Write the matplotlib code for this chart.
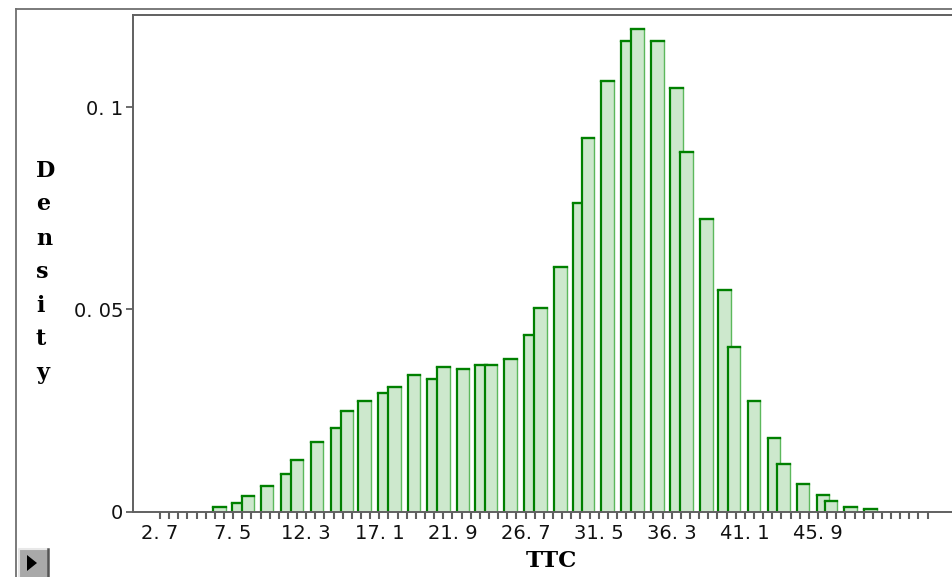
import matplotlib
matplotlib.use("Agg")
import matplotlib.pyplot as plt
from matplotlib.patches import Rectangle, Polygon
from matplotlib.lines import Line2D
import numpy as np

# ---- data ----
bin_left = [6.20, 7.41, 8.06, 9.33, 10.64, 11.30, 12.60, 13.91, 14.56, 15.72,
            17.03, 17.69, 18.95, 20.25, 20.91, 22.20, 23.36, 24.02, 25.31, 26.62,
            27.26, 28.57, 29.84, 30.39, 31.66, 32.97, 33.63, 34.94, 36.21, 36.86,
            38.16, 39.34, 39.99, 41.29, 42.60, 43.23, 44.51, 45.82, 46.34, 47.63,
            48.94]
density = [0.0011, 0.0021, 0.0040, 0.0064, 0.0093, 0.0128, 0.0172, 0.0206, 0.0250, 0.0274,
           0.0294, 0.0309, 0.0338, 0.0328, 0.0358, 0.0353, 0.0363, 0.0362, 0.0377, 0.0437,
           0.0504, 0.0606, 0.0762, 0.0924, 0.1066, 0.1164, 0.1193, 0.1164, 0.1047, 0.0890,
           0.0724, 0.0548, 0.0406, 0.0274, 0.0182, 0.0119, 0.0069, 0.0041, 0.0026, 0.0012,
           0.0007]
xtick_values = [2.7, 7.5, 12.3, 17.1, 21.9, 26.7, 31.5, 36.3, 41.1, 45.9]
xtick_labels = ["2. 7", "7. 5", "12. 3", "17. 1", "21. 9", "26. 7", "31. 5", "36. 3", "41. 1", "45. 9"]
ytick_values = [0, 0.05, 0.1]
ytick_labels = ["0", "0. 05", "0. 1"]
x_label = "TTC"
y_label = "Density"

W, H = 952, 577
fig = plt.figure(figsize=(W / 100, H / 100), dpi=100)
fig.patch.set_facecolor("white")

def fx(px):
    return px / W

def fy(py):
    return 1 - py / H

# outer frame (left and top visible)
fig.add_artist(Line2D([fx(16), fx(16)], [fy(9), fy(577)], color="#707070", lw=1.3, transform=fig.transFigure))
fig.add_artist(Line2D([fx(16), fx(952)], [fy(9), fy(9)], color="#707070", lw=1.3, transform=fig.transFigure))

ax_left, ax_right, ax_top, ax_bottom = 133, 952, 15, 511.7
ax = fig.add_axes([fx(ax_left), fy(ax_bottom), fx(ax_right - ax_left), (ax_bottom - ax_top) / H])
ax.set_xlim(0.927, 54.70)
ax.set_ylim(0, 0.1228)

fill_c = "#cde8cd"
dark = "#008000"
mid = "#5cb85c"
bar_w = 0.82
for i, (x0, h) in enumerate(zip(bin_left, density)):
    z = 2 + i * 0.01
    ax.bar([x0], [h], width=bar_w, align="edge", color=fill_c, linewidth=0, zorder=z)
    ax.plot([x0 + bar_w, x0 + bar_w], [0, h], color=mid, lw=1.0, zorder=z + 0.001, solid_capstyle="butt")
    ax.plot([x0, x0], [0, h], color=dark, lw=1.6, zorder=z + 0.002, solid_capstyle="butt")
    ax.plot([x0, x0 + bar_w], [h, h], color=dark, lw=1.7, zorder=z + 0.003, solid_capstyle="projecting")

ax.spines["right"].set_visible(False)
for s in ["left", "top", "bottom"]:
    ax.spines[s].set_color("#606060")
    ax.spines[s].set_linewidth(1.4)
ax.spines["bottom"].set_zorder(5)

ax.set_xticks(xtick_values)
ax.set_xticklabels(xtick_labels)
ax.set_xticks(np.arange(2.7, 53.2, 0.6), minor=True)
ax.tick_params(axis="x", which="both", direction="out", length=5, width=1.5, color="#606060",
               pad=4, labelsize=14, labelcolor="#111111")
ax.set_yticks(ytick_values)
ax.set_yticklabels(ytick_labels)
ax.tick_params(axis="y", which="both", direction="out", length=5, width=1.3, color="#606060",
               pad=2, labelsize=14, labelcolor="#111111")
for lab in ax.get_xticklabels() + ax.get_yticklabels():
    lab.set_fontfamily(["DejaVu Sans"])

# axis titles
serif = ["DejaVu Serif"]
fig.text(fx(551), fy(561), x_label, ha="center", va="center", fontsize=16.5,
         fontweight="bold", family=serif, color="black")
letter_y = [171, 204, 239, 272, 306, 339, 373]
for ch, yy in zip(y_label, letter_y):
    fig.text(fx(36), fy(yy), ch, ha="left", va="center", fontsize=16, fontweight="bold",
             family=serif, color="black")

# small play button bottom-left
fig.add_artist(Rectangle((fx(18.5), fy(577)), fx(30), (577 - 548.5) / H, transform=fig.transFigure,
                         facecolor="#a9a9a9", edgecolor="none"))
fig.add_artist(Line2D([fx(19), fx(19), fx(47)], [fy(577), fy(549), fy(549)], color="#e8e8e8", lw=1.5,
                      transform=fig.transFigure))
fig.add_artist(Line2D([fx(47.5), fx(47.5)], [fy(549), fy(577)], color="#555555", lw=1.8,
                      transform=fig.transFigure))
fig.add_artist(Polygon([(fx(27), fy(555)), (fx(27), fy(571)), (fx(37), fy(563))], closed=True,
                       transform=fig.transFigure, facecolor="black", edgecolor="none"))

fig.savefig("out.png", dpi=100, facecolor="white")
